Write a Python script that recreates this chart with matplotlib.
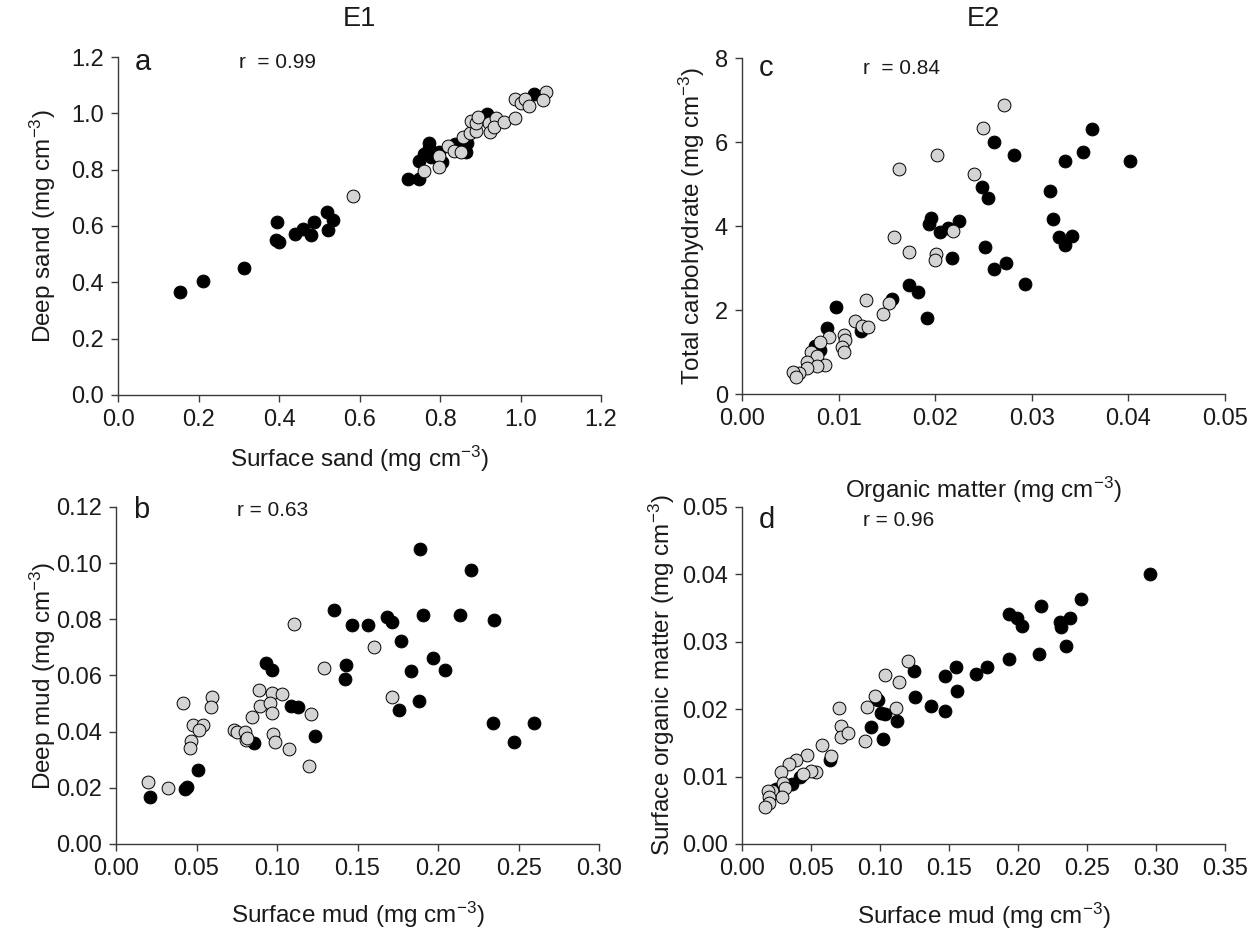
"""
Four scatter panels of sediment variables at two sites (E1, E2),
black and grey symbols for the two sampling groups.
"""

import numpy as np
import matplotlib
matplotlib.use('Agg')
import matplotlib.pyplot as plt

plt.rcParams['font.family'] = ['Liberation Sans', 'DejaVu Sans']
plt.rcParams['mathtext.fontset'] = 'custom'
plt.rcParams['mathtext.rm'] = 'Liberation Sans'
plt.rcParams['mathtext.it'] = 'Liberation Sans:italic'

# Panel a: surface sand vs deep sand
a_black_x = [0.153, 0.210, 0.313, 0.396, 0.393, 0.400, 0.440, 0.459, 0.480, 0.488, 0.518, 0.535,
             0.522, 0.721, 0.747, 0.747, 0.760, 0.772, 0.772, 0.777, 0.798, 0.805, 0.837, 0.864,
             0.866, 0.916, 1.033]
a_black_y = [0.365, 0.404, 0.451, 0.613, 0.549, 0.542, 0.570, 0.589, 0.568, 0.613, 0.650, 0.620,
             0.585, 0.767, 0.767, 0.832, 0.856, 0.896, 0.876, 0.844, 0.864, 0.826, 0.891, 0.864,
             0.893, 0.997, 1.070]
a_grey_x = [0.583, 0.761, 0.798, 0.798, 0.820, 0.834, 0.852, 0.858, 0.875, 0.878, 0.890, 0.890,
            0.895, 0.922, 0.925, 0.939, 0.935, 0.958, 0.986, 0.986, 1.001, 1.012, 1.021, 1.062,
            1.055]
a_grey_y = [0.705, 0.796, 0.849, 0.811, 0.885, 0.867, 0.864, 0.917, 0.929, 0.973, 0.937, 0.964,
            0.988, 0.964, 0.935, 0.982, 0.952, 0.968, 0.984, 1.052, 1.035, 1.050, 1.027, 1.076,
            1.047]

# Panel b: surface mud vs deep mud
b_black_x = [0.1887, 0.2204, 0.1352, 0.1466, 0.1564, 0.1680, 0.1714, 0.1908, 0.2137, 0.2345,
             0.1772, 0.1971, 0.1834, 0.2043, 0.1431, 0.1425, 0.0929, 0.0969, 0.1087, 0.1130,
             0.1757, 0.1881, 0.0860, 0.1237, 0.2341, 0.2593, 0.2473, 0.0511, 0.0441, 0.0426,
             0.0212]
b_black_y = [0.1051, 0.0976, 0.0832, 0.0780, 0.0779, 0.0807, 0.0792, 0.0817, 0.0817, 0.0796,
             0.0722, 0.0662, 0.0617, 0.0620, 0.0639, 0.0587, 0.0643, 0.0619, 0.0493, 0.0488,
             0.0477, 0.0509, 0.0361, 0.0383, 0.0432, 0.0432, 0.0364, 0.0262, 0.0204, 0.0195,
             0.0166]
b_grey_x = [0.1104, 0.1605, 0.1292, 0.0886, 0.0971, 0.1033, 0.0894, 0.0959, 0.0967, 0.1213,
            0.1716, 0.0843, 0.0413, 0.0593, 0.0588, 0.0475, 0.0541, 0.0513, 0.0464, 0.0460,
            0.0734, 0.0753, 0.0802, 0.0807, 0.0815, 0.0973, 0.0988, 0.1074, 0.1196, 0.0199,
            0.0325]
b_grey_y = [0.0783, 0.0701, 0.0626, 0.0549, 0.0538, 0.0534, 0.0493, 0.0503, 0.0466, 0.0464,
            0.0522, 0.0452, 0.0502, 0.0524, 0.0488, 0.0423, 0.0425, 0.0405, 0.0366, 0.0343,
            0.0407, 0.0399, 0.0399, 0.0369, 0.0378, 0.0391, 0.0363, 0.0337, 0.0277, 0.0219,
            0.0200]

# Panel c: organic matter vs total carbohydrate
c_black_x = [0.02612, 0.02812, 0.02482, 0.02547, 0.03627, 0.03525, 0.03341, 0.04014, 0.03190,
             0.03215, 0.03280, 0.03341, 0.03411, 0.01956, 0.01936, 0.02046, 0.02127, 0.02250,
             0.02172, 0.02510, 0.02608, 0.02730, 0.02926, 0.01728, 0.01817, 0.01915, 0.01557,
             0.00970, 0.01235, 0.00880, 0.00754, 0.00811]
c_black_y = [5.99, 5.70, 4.94, 4.66, 6.30, 5.76, 5.54, 5.56, 4.83, 4.17, 3.74, 3.55, 3.76, 4.18,
             4.05, 3.85, 3.95, 4.11, 3.24, 3.50, 2.98, 3.11, 2.63, 2.60, 2.43, 1.82, 2.27, 2.08,
             1.51, 1.57, 1.14, 1.04]
c_grey_x = [0.02710, 0.02498, 0.02017, 0.01626, 0.02400, 0.02180, 0.01577, 0.01728, 0.02009,
            0.01997, 0.01520, 0.01463, 0.01288, 0.01170, 0.01243, 0.01304, 0.01051, 0.01064,
            0.01031, 0.01051, 0.00905, 0.00811, 0.00709, 0.00774, 0.00676, 0.00856, 0.00774,
            0.00672, 0.00591, 0.00530, 0.00558]
c_grey_y = [6.88, 6.34, 5.70, 5.35, 5.25, 3.88, 3.74, 3.39, 3.33, 3.20, 2.16, 1.90, 2.23, 1.74,
            1.63, 1.59, 1.40, 1.28, 1.12, 1.01, 1.35, 1.23, 0.99, 0.90, 0.76, 0.69, 0.67, 0.63,
            0.50, 0.53, 0.41]

# Panel d: surface mud vs surface organic matter
d_black_x = [0.2955, 0.2459, 0.2167, 0.1933, 0.1990, 0.2027, 0.2302, 0.2310, 0.2379, 0.2344,
             0.2150, 0.1933, 0.1776, 0.1696, 0.1551, 0.1473, 0.1556, 0.1471, 0.1368, 0.1256,
             0.1245, 0.0982, 0.1008, 0.1034, 0.1125, 0.0937, 0.1022, 0.0634, 0.0417, 0.0365,
             0.0248]
d_black_y = [0.0401, 0.0363, 0.0353, 0.0341, 0.0335, 0.0323, 0.0329, 0.0322, 0.0335, 0.0294,
             0.0282, 0.0274, 0.0262, 0.0252, 0.0262, 0.0249, 0.0227, 0.0197, 0.0205, 0.0218,
             0.0256, 0.0213, 0.0194, 0.0193, 0.0183, 0.0174, 0.0156, 0.0125, 0.0099, 0.0089,
             0.0082]
d_grey_x = [0.1205, 0.1037, 0.1136, 0.0962, 0.1119, 0.0905, 0.0700, 0.0717, 0.0720, 0.0768,
            0.0888, 0.0577, 0.0645, 0.0474, 0.0394, 0.0337, 0.0280, 0.0534, 0.0503, 0.0443,
            0.0294, 0.0311, 0.0220, 0.0188, 0.0291, 0.0197, 0.0197, 0.0163]
d_grey_y = [0.0271, 0.0251, 0.0241, 0.0220, 0.0202, 0.0203, 0.0201, 0.0175, 0.0159, 0.0164,
            0.0153, 0.0147, 0.0131, 0.0132, 0.0124, 0.0119, 0.0107, 0.0107, 0.0108, 0.0104,
            0.0091, 0.0083, 0.0078, 0.0079, 0.0069, 0.0070, 0.0061, 0.0055]

UNIT = r' (mg cm$^{\mathregular{-3}}$)'
AXIS_COLOR = '#3a3a3a'
TEXT_COLOR = '#1a1a1a'


def draw_panel(ax, bx, by, gx, gy, xlim, ylim, xticks, yticks, xfmt, yfmt,
               letter, r_text, letter_y, xlabel, ylabel, xlab_y, ylab_x):
    """Scatter black and grey points and style the axes."""
    ax.scatter(bx, by, s=85, c='black', edgecolors='black', linewidths=0.7, zorder=3)
    ax.scatter(gx, gy, s=85, c='#d4d4d4', edgecolors='black', linewidths=0.7, zorder=3)

    ax.set_xlim(xlim)
    ax.set_ylim(ylim)
    ax.set_xticks(xticks)
    ax.set_yticks(yticks)
    ax.set_xticklabels([xfmt.format(v) for v in xticks])
    ax.set_yticklabels([yfmt.format(v) for v in yticks])

    for side in ['top', 'right']:
        ax.spines[side].set_visible(False)
    for side in ['left', 'bottom']:
        ax.spines[side].set_color(AXIS_COLOR)
        ax.spines[side].set_linewidth(1.0)
    ax.tick_params(direction='out', length=5, width=1.0, color=AXIS_COLOR,
                   labelsize=17, labelcolor=TEXT_COLOR, pad=5)

    ax.text(0.035, letter_y, letter, transform=ax.transAxes, fontsize=21,
            ha='left', va='center', color=TEXT_COLOR)
    ax.text(0.25, letter_y, r_text, transform=ax.transAxes, fontsize=15,
            ha='left', va='center', color=TEXT_COLOR)

    ax.set_xlabel(xlabel + UNIT, fontsize=17.5, color=TEXT_COLOR)
    ax.set_ylabel(ylabel + UNIT, fontsize=17.5, color=TEXT_COLOR)
    ax.xaxis.set_label_coords(0.5, xlab_y)
    ax.yaxis.set_label_coords(ylab_x, 0.5)


def main():
    fig = plt.figure(figsize=(12.57, 9.30), dpi=100)
    ax_a = fig.add_axes([0.0939, 0.5753, 0.3843, 0.3634])
    ax_c = fig.add_axes([0.5903, 0.5763, 0.3843, 0.3613])
    ax_b = fig.add_axes([0.0923, 0.0925, 0.3843, 0.3624])
    ax_d = fig.add_axes([0.5903, 0.0925, 0.3843, 0.3624])

    draw_panel(ax_a, a_black_x, a_black_y, a_grey_x, a_grey_y,
               (0, 1.2), (0, 1.2), np.arange(0, 1.21, 0.2), np.arange(0, 1.21, 0.2),
               '{:.1f}', '{:.1f}', 'a', 'r  = 0.99', 0.985, 'Surface sand', 'Deep sand',
               -0.145, -0.125)
    draw_panel(ax_b, b_black_x, b_black_y, b_grey_x, b_grey_y,
               (0, 0.3), (0, 0.12), np.arange(0, 0.31, 0.05), np.arange(0, 0.121, 0.02),
               '{:.2f}', '{:.2f}', 'b', 'r = 0.63', 0.99, 'Surface mud', 'Deep mud',
               -0.165, -0.12)
    draw_panel(ax_c, c_black_x, c_black_y, c_grey_x, c_grey_y,
               (0, 0.05), (0, 8), np.arange(0, 0.051, 0.01), np.arange(0, 8.1, 2),
               '{:.2f}', '{:.0f}', 'c', 'r  = 0.84', 0.97, 'Organic matter', 'Total carbohydrate',
               -0.24, -0.072)
    draw_panel(ax_d, d_black_x, d_black_y, d_grey_x, d_grey_y,
               (0, 0.35), (0, 0.05), np.arange(0, 0.351, 0.05), np.arange(0, 0.051, 0.01),
               '{:.2f}', '{:.2f}', 'd', 'r = 0.96', 0.96, 'Surface mud', 'Surface organic matter',
               -0.17, -0.135)

    fig.text(0.2861, 0.980, 'E1', fontsize=19.5, ha='center', va='center', color=TEXT_COLOR)
    fig.text(0.7824, 0.980, 'E2', fontsize=19.5, ha='center', va='center', color=TEXT_COLOR)

    fig.savefig('out.png', dpi=100, facecolor='white')


if __name__ == '__main__':
    main()
